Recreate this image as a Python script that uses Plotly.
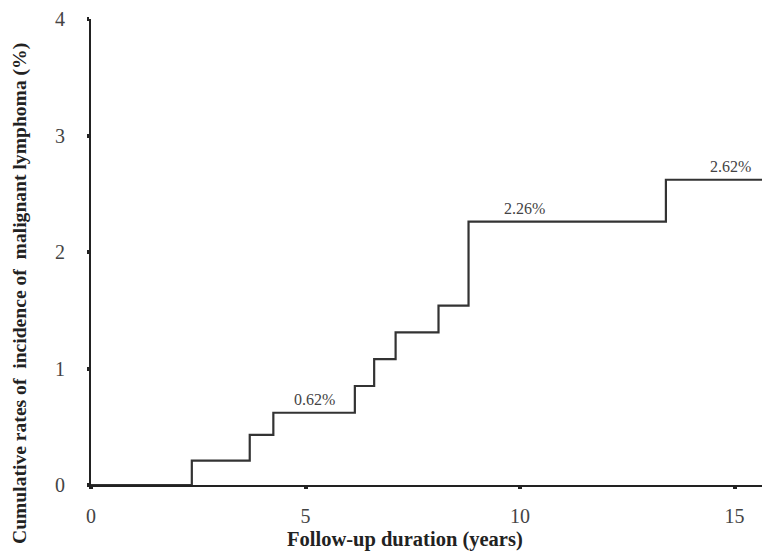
import plotly.graph_objects as go

# Step data
years = [0, 2.35, 3.7, 4.25, 6.15, 6.6, 7.1, 8.1, 8.8, 13.4, 15.7]
rates = [0, 0.21, 0.43, 0.62, 0.85, 1.08, 1.31, 1.54, 2.26, 2.62, 2.62]

x_ticks = [0, 5, 10, 15]
y_ticks = [0, 1, 2, 3, 4]

label_x = [5.2, 10.1, 14.9]
label_y = [0.62, 2.26, 2.62]
label_text = ["0.62%", "2.26%", "2.62%"]

serif = "Liberation Serif, Times New Roman, serif"

fig = go.Figure()
fig.add_trace(go.Scatter(
    x=years, y=rates, mode="lines", line_shape="hv",
    line=dict(color="#333333", width=2.2), showlegend=False, hoverinfo="skip",
))

for lx, ly, lt in zip(label_x, label_y, label_text):
    fig.add_annotation(x=lx, y=ly, text=lt, showarrow=False, yshift=13,
                       font=dict(family=serif, size=16, color="#444444"))

fig.add_annotation(xref="paper", yref="paper", x=(405 - 91) / 671, y=-(539 - 485) / 466,
                   yanchor="middle", xanchor="center",
                   text="<b>Follow-up duration (years)</b>", showarrow=False,
                   font=dict(family=serif, size=20.5, color="#222222"))
fig.add_annotation(xref="paper", yref="paper", x=-(91 - 20) / 671, y=(485 - 294) / 466,
                   xanchor="center", yanchor="middle",
                   textangle=-90,
                   text="<b>Cumulative rates of  incidence of  malignant lymphoma (%)</b>",
                   showarrow=False, font=dict(family=serif, size=19.6, color="#222222"))

fig.update_layout(
    width=762, height=553,
    margin=dict(l=91, r=0, t=19, b=68),
    paper_bgcolor="white", plot_bgcolor="white",
    font=dict(family=serif, color="#333333"),
)
fig.update_xaxes(range=[0, 15.64], tickvals=x_ticks, ticktext=[str(v) for v in x_ticks],
                 showgrid=False, zeroline=False, showline=True, linecolor="#222222", linewidth=2,
                 ticks="outside", ticklen=2, tickwidth=4, tickcolor="#222222",
                 tickfont=dict(family=serif, size=20, color="#444444"), ticklabelstandoff=10)
fig.update_yaxes(range=[0, 4], tickvals=y_ticks, ticktext=[str(v) for v in y_ticks],
                 showgrid=False, zeroline=False, showline=True, linecolor="#222222", linewidth=2,
                 ticks="outside", ticklen=2, tickwidth=4, tickcolor="#222222",
                 tickfont=dict(family=serif, size=20, color="#444444"), ticklabelstandoff=18)

fig.write_html("out.html", config={"displayModeBar": False},
               post_script="document.body.style.margin='0';")
